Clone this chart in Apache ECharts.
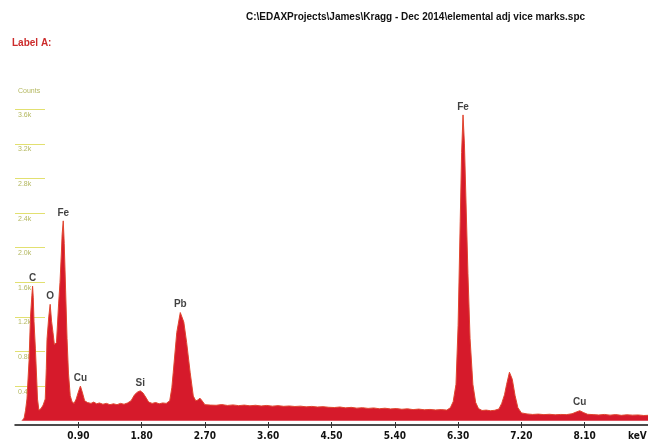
<!DOCTYPE html>
<html>
<head>
<meta charset="utf-8">
<script src="https://cdn.jsdelivr.net/npm/echarts@6/dist/echarts.min.js"></script>
<style>html,body{margin:0;padding:0;background:#fff;}#chart{width:648px;height:441px;}</style>
</head>
<body>
<div id="chart"></div>
<script>
// Spectrum energies (keV) and counts
const energyKeV = [
  0.10,0.13,0.15,0.17,0.20,0.22,0.24,0.25,0.26,0.27,0.29,0.31,0.32,0.34,0.37,0.40,0.43,0.445,0.455,0.48,
  0.50,0.52,0.54,0.56,0.59,0.62,0.64,0.66,0.67,0.686,0.70,0.72,0.74,0.76,0.785,0.81,0.84,0.87,0.90,0.93,
  0.96,0.99,1.03,1.08,1.12,1.16,1.20,1.25,1.30,1.35,1.40,1.45,1.50,1.55,1.60,1.65,1.70,1.74,1.78,1.82,
  1.86,1.90,1.95,2.00,2.05,2.10,2.15,2.20,2.23,2.25,2.30,2.35,2.40,2.44,2.49,2.535,2.57,2.60,2.63,2.66,
  2.70,2.78,2.86,2.94,3.02,3.10,3.18,3.26,3.34,3.42,3.50,3.58,3.66,3.74,3.82,3.90,3.98,4.06,4.14,4.22,4.30,4.38,4.46,
  4.54,4.62,4.70,4.78,4.86,4.94,5.02,5.10,5.18,5.26,5.34,5.42,5.50,5.58,5.66,5.74,5.82,5.90,5.98,6.06,6.14,
  6.19,6.23,6.27,6.30,6.33,6.35,6.37,6.39,6.41,6.44,6.47,6.51,6.55,6.59,
  6.64,6.70,6.76,6.82,6.88,
  6.92,6.96,6.99,7.03,7.07,7.11,7.15,
  7.20,7.28,7.36,7.44,7.52,7.60,7.68,7.76,7.84,7.92,7.98,8.03,8.08,8.14,8.22,8.30,8.38,8.46,8.54,8.62,8.70,8.78,8.86,8.94,9.00
];
const counts = [
  0,30,120,250,700,1200,1450,1555,1420,1150,830,450,250,120,140,180,250,600,940,1200,
  1345,1150,1020,880,905,1350,1600,1950,2150,2310,2050,1500,950,550,290,220,200,250,330,400,
  320,230,210,200,215,195,205,190,200,185,195,185,200,190,205,230,300,330,345,320,
  270,215,200,210,195,205,200,230,380,560,1020,1250,1140,905,560,285,230,240,260,230,
  185,180,178,186,176,182,174,180,172,178,170,176,168,174,166,170,164,168,160,165,158,162,155,
  152,158,148,154,145,150,142,147,138,144,136,140,132,137,128,134,126,130,124,128,122,
  150,220,420,1100,2300,3100,3535,3200,2600,1700,950,420,210,140,
  118,122,115,120,135,
  200,300,420,560,480,290,150,
  90,78,72,76,70,74,68,72,70,80,100,115,95,74,70,66,72,64,70,62,68,64,66,60,62
];
// Peak labels
const peakNames = ['C','O','Fe','Cu','Si','Pb','Fe','Cu'];
const peakEnergy = [0.25,0.50,0.686,0.93,1.78,2.35,6.37,8.03];
const peakCounts = [1555,1345,2310,400,345,1250,3535,115];
// Axis ticks
const xTicks = [0.9,1.8,2.7,3.6,4.5,5.4,6.3,7.2,8.1];
const yTicks = [400,800,1200,1600,2000,2400,2800,3200,3600];
const yTickLabels = ['0.4k','0.8k','1.2k','1.6k','2.0k','2.4k','2.8k','3.2k','3.6k'];

const spectrum = energyKeV.map((e, i) => [e, counts[i]]);
const peaks = peakEnergy.map((e, i) => ({ value: [e, peakCounts[i]], name: peakNames[i] }));

const chart = echarts.init(document.getElementById('chart'));
chart.setOption({
  animation: false,
  backgroundColor: '#ffffff',
  grid: { left: 15, right: 0, top: 74.7, bottom: 15 },
  xAxis: [{
    type: 'value', min: 0, max: 9, interval: 0.9, z: 10,
    axisLine: { onZero: false, lineStyle: { color: '#111', width: 1.5 } },
    axisTick: { show: true, length: 3, customValues: xTicks, lineStyle: { color: '#333' } },
    axisLabel: {
      customValues: xTicks, margin: 6, fontSize: 10, fontWeight: 'bold', color: '#111',
      fontFamily: 'DejaVu Sans Condensed, Liberation Sans Narrow, sans-serif',
      formatter: v => v.toFixed(2)
    },
    splitLine: { show: false }
  }, {
    type: 'value', min: 0, max: 9, interval: 0.9, position: 'bottom', z: 10,
    axisLine: { show: false, onZero: false },
    axisTick: { show: true, inside: true, length: 3, customValues: xTicks, lineStyle: { color: '#333' } },
    axisLabel: { show: false },
    splitLine: { show: false }
  }],
  yAxis: {
    type: 'value', min: -50, max: 4000, offset: 3,
    axisLine: { show: false },
    axisTick: { show: true, inside: true, length: 30, customValues: yTicks, lineStyle: { color: '#e2e070', width: 1 } },
    axisLabel: {
      inside: true, customValues: yTicks, margin: 6, fontSize: 7, color: '#b4b860',
      verticalAlign: 'top', padding: [2, 0, 0, 0], fontFamily: 'Liberation Sans, sans-serif',
      formatter: v => yTickLabels[yTicks.indexOf(v)] || ''
    },
    splitLine: { show: false }
  },
  graphic: [
    { type: 'text', left: 246, top: 12, style: { text: 'C:\\EDAXProjects\\James\\Kragg - Dec 2014\\elemental adj vice marks.spc', font: 'bold 10px "Liberation Sans", Arial, sans-serif', fill: '#111' } },
    { type: 'text', left: 12, top: 38, style: { text: 'Label A:', font: 'bold 10px "Liberation Sans", Arial, sans-serif', fill: '#cc2b2b' } },
    { type: 'text', left: 18, top: 88, style: { text: 'Counts', font: '7px "Liberation Sans", Arial, sans-serif', fill: '#b4b860' } },
    { type: 'text', left: 628, top: 431, style: { text: 'keV', font: 'bold 10px "DejaVu Sans Condensed", sans-serif', fill: '#111' } }
  ],
  series: [{
    type: 'line', data: spectrum, showSymbol: false, smooth: false,
    lineStyle: { color: '#e0452f', width: 1 },
    areaStyle: { color: '#d61a2b', opacity: 1 },
    z: 2
  }, {
    type: 'scatter', data: peaks, symbolSize: 0, z: 5,
    label: {
      show: true, position: 'top', distance: 3, formatter: p => p.name,
      fontSize: 10, fontWeight: 'bold', color: '#111', fontFamily: 'Liberation Sans, Arial, sans-serif'
    }
  }]
});
</script>
</body>
</html>
